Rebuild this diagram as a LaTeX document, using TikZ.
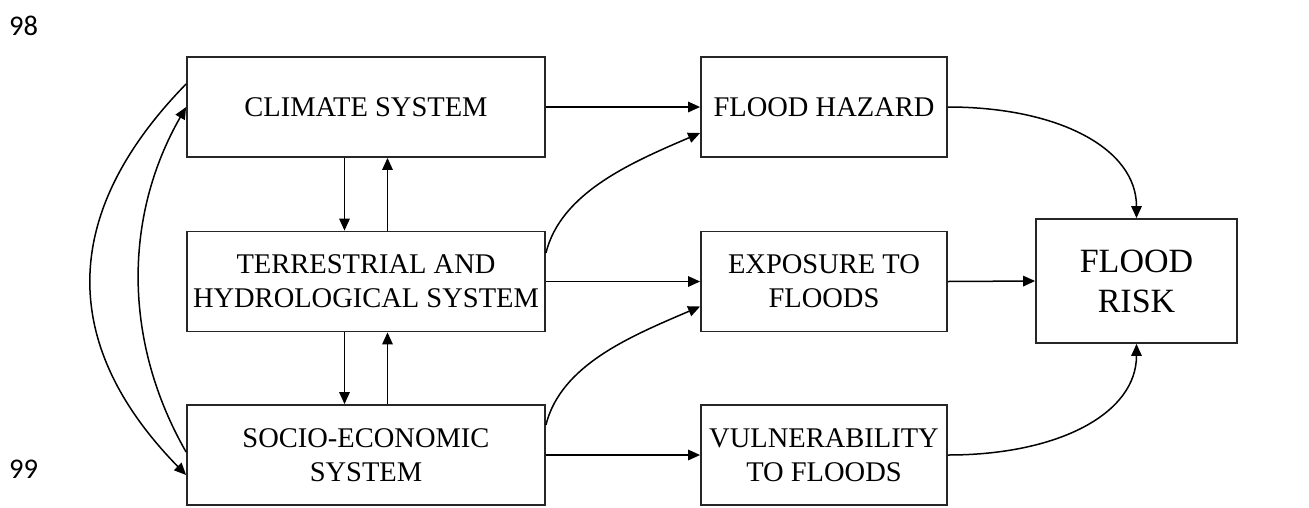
\documentclass[tikz,border=0pt]{standalone}
\usepackage{fontspec}
\setmainfont{Liberation Serif}
\newfontfamily\lnfont{Carlito}
\usetikzlibrary{arrows.meta}
\begin{document}
\begin{tikzpicture}[x=1pt,y=-1pt,
  box/.style={draw=black!85, line width=1.8pt, minimum width=#1, minimum height=100pt,
    inner sep=0pt, align=center, font=\fontsize{28.5}{34}\selectfont},
  arr/.style={-{Triangle[length=12pt,width=10.5pt]}, line width=1.5pt},
  lnum/.style={anchor=west, inner sep=0pt, font=\lnfont\fontsize{28.5}{30}\selectfont}
]
\useasboundingbox (0,0) rectangle (1309,507);
\node[lnum] (ln98) at (9,26) {98};
\node[lnum] (ln99) at (9,469) {99};

\node[box=358pt] (clim) at (366,107) {CLIMATE SYSTEM};
\node[box=358pt] (terr) at (366,281.5) {TERRESTRIAL AND\\HYDROLOGICAL SYSTEM};
\node[box=358pt] (soc) at (366,455) {SOCIO-ECONOMIC\\SYSTEM};
\node[box=246pt] (haz) at (824,107) {FLOOD HAZARD};
\node[box=246pt] (exp) at (824,281.5) {EXPOSURE TO\\FLOODS};
\node[box=246pt] (vul) at (824,455) {VULNERABILITY\\TO FLOODS};
\node[box=201pt, minimum height=124pt, font=\fontsize{34}{40}\selectfont] (risk) at (1136.5,281) {FLOOD\\RISK};

\draw[arr] (clim.east) -- (haz.west);
\draw[arr] (terr.east) -- (exp.west);
\draw[arr] (soc.east) -- (vul.west);
\draw[arr] (exp.east) -- (risk.west);

\draw[arr] ([xshift=-21.5pt]clim.south) -- ([xshift=-21.5pt]terr.north);
\draw[arr] ([xshift=21.5pt]terr.north) -- ([xshift=21.5pt]clim.south);
\draw[arr] ([xshift=-21.5pt]terr.south) -- ([xshift=-21.5pt]soc.north);
\draw[arr] ([xshift=21.5pt]soc.north) -- ([xshift=21.5pt]terr.south);

\draw[arr] ([yshift=28.5pt]terr.east) .. controls +(15,-60) and +(-70,30) .. ([yshift=-26pt]haz.west);
\draw[arr] ([yshift=30pt]soc.east) .. controls +(15,-60) and +(-70,30) .. ([yshift=-25pt]exp.west);

\draw[arr] (haz.east) .. controls +(110,0) and +(0,-70) .. (risk.north);
\draw[arr] (vul.east) .. controls +(110,0) and +(0,70) .. (risk.south);

\draw[arr] ([yshift=23pt]clim.west) .. controls +(-127,130) and +(-127,-130) .. ([yshift=-20pt]soc.west);
\draw[arr] ([yshift=3pt]soc.west) .. controls +(-63,-110) and +(-63,110) .. (clim.west);
\end{tikzpicture}
\end{document}
